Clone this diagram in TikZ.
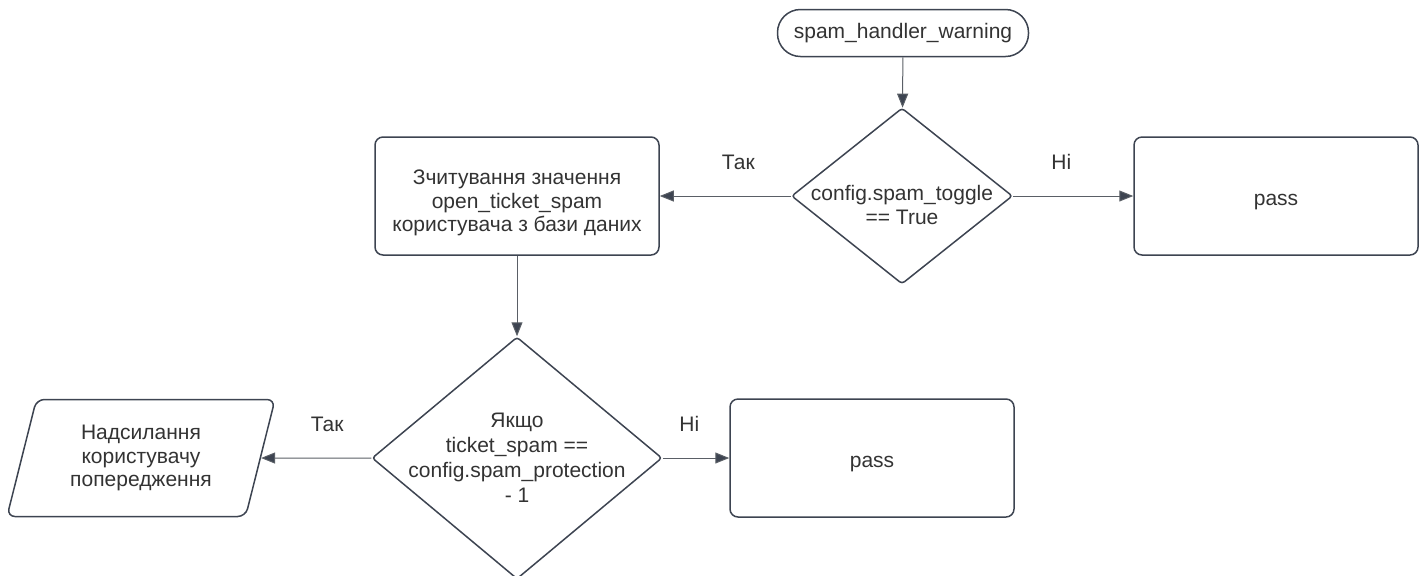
\documentclass[tikz,border=0pt]{standalone}
\usepackage{fontspec}
\setmainfont{Liberation Sans}
\usetikzlibrary{shapes,arrows.meta,positioning,calc}

\definecolor{edge}{HTML}{3D4451}
\definecolor{ink}{HTML}{333333}
\definecolor{wire}{HTML}{5A5F66}

\begin{document}
\begin{tikzpicture}[x=0.5pt,y=-0.5pt,
	font=\fontsize{10.5}{11.8}\selectfont, text=ink,
	base/.style={draw=edge,line width=0.75pt,fill=white,align=center,inner sep=0pt},
	terminal/.style={base,rounded corners=11.5pt,minimum width=125.5pt,minimum height=23.5pt},
	process/.style={base,rounded corners=4pt,minimum width=142pt,minimum height=59pt},
	decision/.style={base,diamond,rounded corners=1.5pt},
	io/.style={base,trapezium,trapezium left angle=66,trapezium right angle=114,
		trapezium stretches body,rounded corners=4pt,minimum width=134pt,minimum height=58.5pt},
	inside/.style={align=center,text=ink},
	flow/.style={draw=wire,line width=0.5pt,-{Triangle[length=7pt,width=5.5pt,fill=edge]}},
	lbl/.style={pos=0.4,yshift=17pt,text=ink}]
	\useasboundingbox (0,0) rectangle (1427,575);

	\node[terminal] (start) at (903,33) {spam\_handler\_warning};
	\node[decision,minimum width=110.5pt,minimum height=88pt,
		label={[inside,yshift=-4.5pt]center:config.spam\_toggle\\== True}] (toggle) at (902,196) {};
	\node[process,label={[inside,yshift=-3.5pt]center:Зчитування значення\\open\_ticket\_spam\\користувача з бази даних}] (read) at (517,196) {};
	\node[process,text height=11.5pt] (pass1) at (1276,196) {pass};
	\node[decision,minimum width=145pt,minimum height=121pt,
		label={[inside,font=\fontsize{10.5}{12.5}\selectfont]center:Якщо\\ticket\_spam ==\\config.spam\_protection\\- 1}] (check) at (517,458) {};
	\node[process,text height=11.5pt] (pass2) at (872,458) {pass};
	\node[io] (warn) at (141,458) {Надсилання\\користувачу\\попередження};

	\draw[flow] (start) -- (toggle);
	\draw[flow] (toggle.west) -- node[lbl] (yes1) {Так} (read.east);
	\draw[flow] (toggle.east) -- node[lbl] (no1) {Ні} (pass1.west);
	\draw[flow] (read) -- (check);
	\draw[flow] (check.west) -- node[lbl] (yes2) {Так} (warn.east);
	\draw[flow] (check.east) -- node[lbl] (no2) {Ні} (pass2.west);
\end{tikzpicture}
\end{document}
